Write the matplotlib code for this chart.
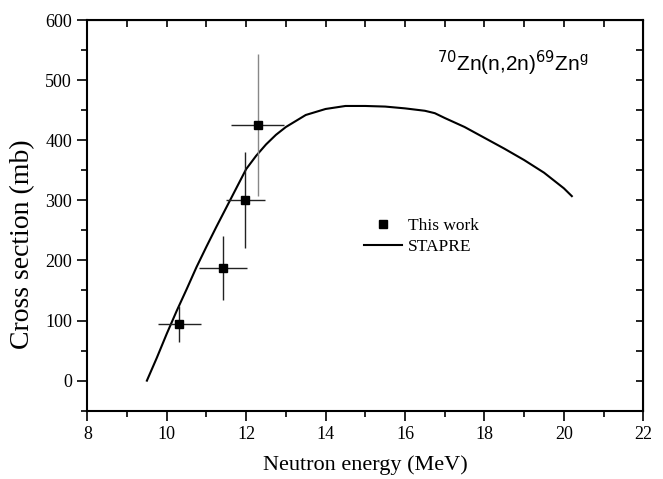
import numpy as np
import matplotlib.pyplot as plt
from matplotlib.ticker import MultipleLocator

# Measured cross sections (this work)
E_exp = [10.32, 11.42, 11.98, 12.29]
sig_exp = [95, 187, 301, 425]
dE_exp = [0.55, 0.61, 0.49, 0.67]
dsig_exp = [30, 53, 80, 118]

# STAPRE calculation
E_calc = [9.5, 9.75, 10.0, 10.25, 10.5, 10.75, 11.0, 11.25, 11.5, 11.75,
          12.0, 12.25, 12.5, 12.75, 13.0, 13.5, 14.0, 14.5, 15.0, 15.5,
          16.0, 16.5, 16.75, 17.0, 17.5, 18.0, 18.5, 19.0, 19.5, 20.0, 20.2]
sig_calc = [0, 38, 78, 116, 152, 189, 223, 256, 288, 320,
            352, 374, 393, 409, 422, 442, 452, 457, 457, 456,
            453, 449, 445, 437, 422, 404, 386, 367, 346, 320, 307]

serif = ['Liberation Serif', 'DejaVu Serif']

fig = plt.figure(figsize=(6.63, 4.79), dpi=100)
ax = fig.add_axes([0.1317, 0.1426, 0.8386, 0.8156])

ax.plot(E_calc, sig_calc, color='black', lw=1.5, label='STAPRE', zorder=2)

# error bars: the last point has a lighter vertical bar
ax.errorbar(E_exp, sig_exp, xerr=dE_exp, fmt='none', ecolor='#222222',
            elinewidth=1.0, capsize=0, zorder=3)
ax.errorbar(E_exp[:3], sig_exp[:3], yerr=dsig_exp[:3], fmt='none',
            ecolor='#222222', elinewidth=1.0, capsize=0, zorder=3)
ax.errorbar(E_exp[3:], sig_exp[3:], yerr=dsig_exp[3:], fmt='none',
            ecolor='#888888', elinewidth=1.0, capsize=0, zorder=3)
ax.plot(E_exp, sig_exp, 's', color='black', ms=6, ls='none',
        label='This work', zorder=4)

ax.set_xlim(8, 22)
ax.set_ylim(-50, 600)
ax.xaxis.set_major_locator(MultipleLocator(2))
ax.xaxis.set_minor_locator(MultipleLocator(1))
ax.yaxis.set_major_locator(MultipleLocator(100))
ax.yaxis.set_minor_locator(MultipleLocator(50))
ax.tick_params(which='major', direction='out', length=7, width=1.2,
               labelsize=13, pad=4)
ax.tick_params(which='minor', direction='out', length=4, width=1.2)
for lab in ax.get_xticklabels() + ax.get_yticklabels():
    lab.set_family(serif)
for s in ax.spines.values():
    s.set_linewidth(1.5)

# mirrored ticks on top and right, pointing inward
top = ax.secondary_xaxis('top')
top.xaxis.set_major_locator(MultipleLocator(1))
top.tick_params(direction='in', length=5, width=1.2, labeltop=False)
right = ax.secondary_yaxis('right')
right.yaxis.set_major_locator(MultipleLocator(50))
right.tick_params(direction='in', length=5, width=1.2, labelright=False)

ax.set_xlabel('Neutron energy (MeV)', family=serif, fontsize=16, labelpad=9)
fig.text(23 / 663, 1 - 244 / 479, 'Cross section (mb)', family=serif,
         fontsize=20, rotation=90, ha='center', va='center')

ax.text(0.902, 0.868, r'$^{70}$Zn(n,2n)$^{69}$Zn$^{\mathregular{g}}$',
        transform=ax.transAxes, ha='right', va='baseline',
        family='Liberation Sans', fontsize=15)

leg = ax.legend(handles=ax.get_legend_handles_labels()[0][::-1],
                loc='upper left', bbox_to_anchor=(0.47, 0.534),
                frameon=False, prop={'family': serif, 'size': 12.5},
                handlelength=2.2, handletextpad=0.3, labelspacing=0.31)

fig.savefig('out.png', dpi=100)
